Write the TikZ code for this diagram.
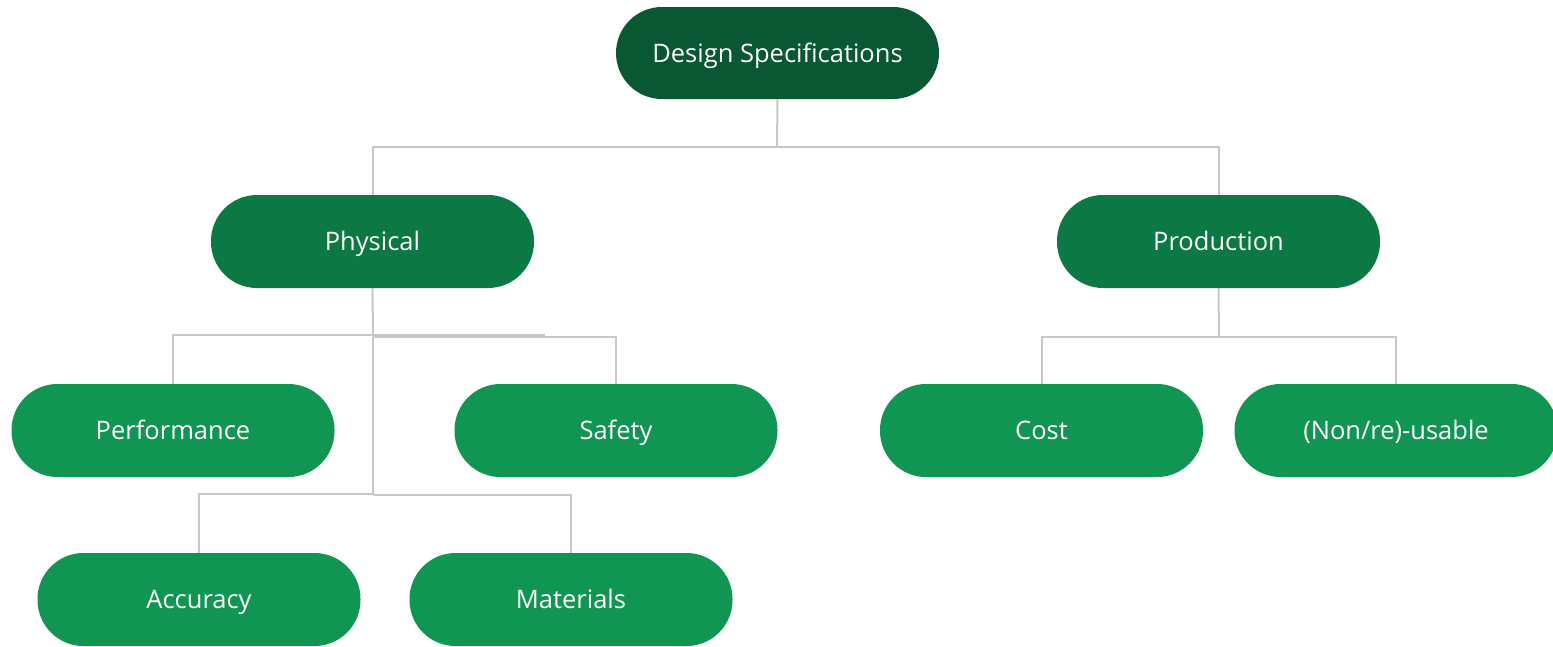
\documentclass[tikz,border=0pt]{standalone}
\usepackage{fontspec}
\setmainfont{Open Sans}
\begin{document}
\definecolor{topgreen}{HTML}{0A5733}
\definecolor{midgreen}{HTML}{0C7844}
\definecolor{leafgreen}{HTML}{109553}
\definecolor{linkgray}{HTML}{C8C8C8}
\begin{tikzpicture}[x=1pt,y=-1pt,
  pill/.style={rectangle, rounded corners=46pt, minimum width=323pt, minimum height=93pt,
    inner sep=0pt, text height=24.5pt, text depth=6pt, text=white,
    font=\fontsize{25.5}{30}\selectfont},
  topbox/.style={pill, fill=topgreen, minimum height=92pt},
  midbox/.style={pill, fill=midgreen},
  leafbox/.style={pill, fill=leafgreen},
  link/.style={draw=linkgray, line width=2pt}]
\useasboundingbox (0,0) rectangle (1553,646);
\clip (0,0) rectangle (1553,646);

% junction points of the tree connectors
\coordinate (top) at (777,147);
\coordinate (pl) at (373,335);
\coordinate (pr) at (373,337);
\coordinate (pstub) at (545,335);
\coordinate (plow) at (373,495);
\coordinate (prod) at (1219,337);

% nodes
\node[topbox] (spec) at (777.5,53) {Design Specifications};
\node[midbox] (phys) at (372.5,241.5) {Physical};
\node[midbox] (prodn) at (1218.5,241.5) {Production};
\node[leafbox] (perf) at (173,430.5) {Performance};
\node[leafbox] (safe) at (616,430.5) {Safety};
\node[leafbox] (cost) at (1041.5,430.5) {Cost};
\node[leafbox] (reuse) at (1396,430.5) {(Non/re)-usable};
\node[leafbox] (acc) at (199,599.5) {Accuracy};
\node[leafbox] (mat) at (571,599.5) {Materials};

% connectors
\draw[link] (spec.south) -- (top);
\draw[link] (top) -| (phys.north);
\draw[link] (top) -| (prodn.north);

\draw[link] (phys.south) -- (pl);
\draw[link] (pl) -| (perf.north);
\draw[link] (pl) -- (pstub);
\draw[link] (pr) -| (safe.north);
\draw[link] (pr) -- (plow);
\draw[link] ([yshift=1pt]plow) -| (acc.north);
\draw[link] (plow) -| (mat.north);

\draw[link] (prodn.south) -- (prod);
\draw[link] (prod) -| (cost.north);
\draw[link] (prod) -| (reuse.north);
\end{tikzpicture}
\end{document}
